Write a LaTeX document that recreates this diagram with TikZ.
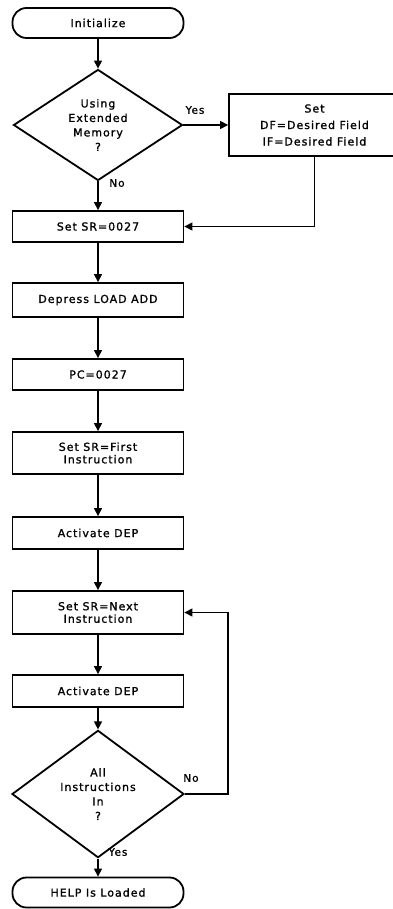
\documentclass[tikz,border=0pt]{standalone}
\usepackage{fontspec}
\setmainfont[LetterSpace=9,FakeBold=1.2]{DejaVu Sans}
\usetikzlibrary{shapes.geometric,arrows.meta}
\begin{document}
\begin{tikzpicture}[x=1pt,y=-1pt,
  every node/.style={font=\fontsize{11}{12.5}\selectfont, align=center, text=black},
  box/.style={draw, line width=1.8pt, minimum width=171pt, inner sep=0pt},
  term/.style={box, rounded corners=14pt, minimum height=30pt},
  dec/.style={draw, diamond, line width=1.8pt, inner sep=0pt, font=\fontsize{11}{14.5}\selectfont},
  conn/.style={line width=1.2pt, -{Triangle[width=8pt,length=8pt]}},
  lbl/.style={font=\fontsize{10.5}{12}\selectfont}
]
\useasboundingbox (0,0) rectangle (393,909);
\node[term] (init) at (98,23) {Initialize};
\node[dec, minimum width=169pt, minimum height=95pt] (d1) at (98,125) {Using\\Extended\\Memory\\?};
\node[box, minimum height=62pt, font=\fontsize{11}{16.5}\selectfont] (df) at (314.5,125) {Set\\DF=Desired Field\\IF=Desired Field};
\node[box, minimum height=31pt] (sr) at (98,226.5) {Set SR=0027};
\node[box, minimum height=34pt] (dep) at (98,300) {Depress LOAD ADD};
\node[box, minimum height=31pt] (pc) at (98,374.5) {PC=0027};
\node[box, minimum height=42pt] (first) at (98,453) {Set SR=First\\Instruction};
\node[box, minimum height=32pt] (act1) at (98,533) {Activate DEP};
\node[box, minimum height=43pt] (next) at (98,612.5) {Set SR=Next\\Instruction};
\node[box, minimum height=32pt] (act2) at (98,691) {Activate DEP};
\node[dec, minimum width=172pt, minimum height=98pt] (d2) at (98,794) {All\\Instructions\\In\\?};
\node[term] (help) at (98,892.5) {HELP Is Loaded};
\node[lbl] (yes1) at (195,110) {Yes};
\node[lbl] (no1) at (117,183) {No};
\node[lbl] (no2) at (191,778) {No};
\node[lbl] (yes2) at (118,852) {Yes};
\coordinate (loop) at (228,794);
\draw[conn] (init) -- (d1);
\draw[conn] (d1) -- (df);
\draw[conn] (d1) -- (sr);
\draw[conn] (df.south) |- (sr.east);
\draw[conn] (sr) -- (dep);
\draw[conn] (dep) -- (pc);
\draw[conn] (pc) -- (first);
\draw[conn] (first) -- (act1);
\draw[conn] (act1) -- (next);
\draw[conn] (next) -- (act2);
\draw[conn] (act2) -- (d2);
\draw[conn] (d2.east) -- (loop) |- (next.east);
\draw[conn] (d2) -- (help);
\end{tikzpicture}
\end{document}
